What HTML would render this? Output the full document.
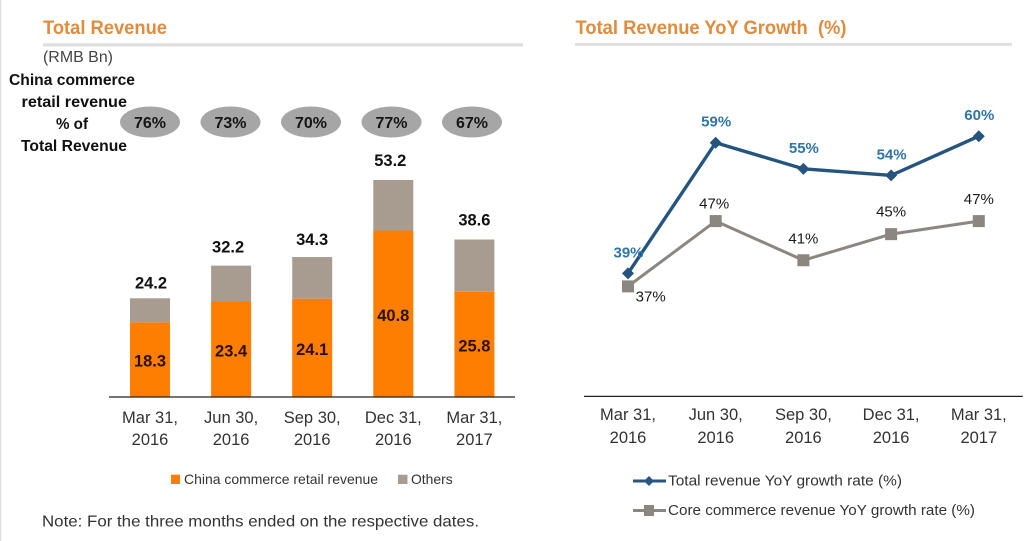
<!DOCTYPE html>
<html lang="en">
<head>
<meta charset="utf-8">
<title>Total Revenue and YoY Growth</title>
<style>
html,body{margin:0;padding:0;background:#fff;width:1032px;height:541px;overflow:hidden}
svg{display:block;font-family:"Liberation Sans",Arial,sans-serif}
</style>
</head>
<body>
<svg id="chart" width="1032" height="541" viewBox="0 0 1032 541" xmlns="http://www.w3.org/2000/svg">
  <rect x="0" y="0" width="1.2" height="541" fill="#dcdcdc"/>

  <text x="43" y="34" font-size="19" font-weight="bold" fill="#e08c3e" textLength="124" lengthAdjust="spacingAndGlyphs">Total Revenue</text>
  <rect x="43" y="43.3" width="480" height="3.2" fill="#dedede"/>
  <text x="43" y="62" font-size="16" fill="#444" textLength="70" lengthAdjust="spacingAndGlyphs">(RMB Bn)</text>

  <g font-size="16" font-weight="bold" fill="#111">
    <text x="9" y="85" textLength="126" lengthAdjust="spacingAndGlyphs">China commerce</text>
    <text x="21.5" y="107" textLength="105.5" lengthAdjust="spacingAndGlyphs">retail revenue</text>
    <text x="56" y="129" textLength="32" lengthAdjust="spacingAndGlyphs">% of</text>
    <text x="21" y="151" textLength="106" lengthAdjust="spacingAndGlyphs">Total Revenue</text>
  </g>

  <g id="pills"></g>
  <g id="bars"></g>
  <line x1="109" x2="515" y1="397" y2="397" stroke="#222" stroke-width="1.2"/>
  <g id="barTicks"></g>

  <g>
    <rect x="171" y="474.7" width="9" height="9.3" fill="#fd7e00"/>
    <text x="184" y="484" font-size="14" fill="#333" textLength="194" lengthAdjust="spacingAndGlyphs">China commerce retail revenue</text>
    <rect x="398" y="474.7" width="9.5" height="9.3" fill="#a89c90"/>
    <text x="411" y="484" font-size="14" fill="#333" textLength="41.7" lengthAdjust="spacingAndGlyphs">Others</text>
  </g>
  <text x="42" y="526.5" font-size="16" fill="#333" textLength="437" lengthAdjust="spacingAndGlyphs">Note: For the three months ended on the respective dates.</text>

  <text x="575.5" y="34" font-size="19" font-weight="bold" fill="#e08c3e" textLength="271" lengthAdjust="spacingAndGlyphs" xml:space="preserve">Total Revenue YoY Growth  (%)</text>
  <rect x="575" y="43" width="437" height="2.8" fill="#dedede"/>

  <g id="lines"></g>
  <line x1="584" x2="1022.7" y1="396.4" y2="396.4" stroke="#222" stroke-width="1.2"/>
  <g id="lineTicks"></g>

  <g>
    <line x1="633" x2="666" y1="481" y2="481" stroke="#2a5580" stroke-width="3"/>
    <polygon points="649,476 654,481 649,486 644,481" fill="#2a5580"/>
    <text x="668" y="485.7" font-size="15" fill="#333" textLength="234" lengthAdjust="spacingAndGlyphs">Total revenue YoY growth rate (%)</text>
    <line x1="633" x2="666" y1="510.5" y2="510.5" stroke="#8c8681" stroke-width="3"/>
    <rect x="644" y="505" width="10" height="11" fill="#8c8681"/>
    <text x="668" y="515" font-size="15" fill="#333" textLength="307" lengthAdjust="spacingAndGlyphs">Core commerce revenue YoY growth rate (%)</text>
  </g>
</svg>

<script>
// Chart data
const quarterMonths = ["Mar 31,", "Jun 30,", "Sep 30,", "Dec 31,", "Mar 31,"];
const quarterYears = ["2016", "2016", "2016", "2016", "2017"];
const chinaRetailRevenue = [18.3, 23.4, 24.1, 40.8, 25.8];
const othersRevenue = [5.9, 8.8, 10.2, 12.4, 12.8];
const retailSharePct = [76, 73, 70, 77, 67];
const totalGrowthPct = [39, 59, 55, 54, 60];
const coreGrowthPct = [37, 47, 41, 45, 47];

// Axis functions
const SVG_NS = "http://www.w3.org/2000/svg";
function xBar(i) { return 150 + 81.1 * i; }
function yBar(v) { return 397 - 4.08 * v; }
function xPill(i) { return 150 + 80.5 * i; }
function xLine(i) { return 628 + 87.7 * i; }
function yLine(v) { return 528 - 6.53 * v; }

function make(tag, parent, props, content) {
  const el = document.createElementNS(SVG_NS, tag);
  for (const k in props) el.setAttribute(k, props[k]);
  if (content !== undefined) el.textContent = content;
  parent.appendChild(el);
  return el;
}

const pills = document.getElementById("pills");
const bars = document.getElementById("bars");
const barTicks = document.getElementById("barTicks");
const lines = document.getElementById("lines");
const lineTicks = document.getElementById("lineTicks");

// Share pills
retailSharePct.forEach(function (v, i) {
  const e = make("ellipse", pills, { cx: xPill(i), cy: 122, rx: 30, ry: 15.5, fill: "#a6a6a6" });
  
  
  const t = make("text", pills, { x: xPill(i), y: 128, "text-anchor": "middle", "font-size": 16, "font-weight": "bold", fill: "#151515" }, v + "%");
  
  
});

// Stacked bars
const BAR_W = 40;
const totalLabelLift = [10, 13, 12, 14, 14];
const totalLabelShift = [1, -3, 0, -3, 0];
chinaRetailRevenue.forEach(function (v, i) {
  const o = othersRevenue[i];
  const total = v + o;
  const left = xBar(i) - BAR_W / 2;

  const barChina = make("rect", bars, { x: left, y: yBar(v), width: BAR_W, height: yBar(0) - yBar(v), fill: "#fd7e00" });
  
  

  const barOthers = make("rect", bars, { x: left, y: yBar(total), width: BAR_W, height: yBar(v) - yBar(total), fill: "#a89c90" });
  
  

  const inner = make("text", bars, { x: xBar(i), y: (yBar(0) + yBar(v)) / 2 + 7, "text-anchor": "middle", "font-size": 16.5, "font-weight": "bold", fill: "#2c1000" }, v.toFixed(1));
  
  

  const top = make("text", bars, { x: xBar(i) + totalLabelShift[i], y: yBar(total) - totalLabelLift[i], "text-anchor": "middle", "font-size": 16.5, "font-weight": "bold", fill: "#111" }, total.toFixed(1));
  
  
});

// Category labels for both charts
quarterMonths.forEach(function (m, i) {
  const a = make("text", barTicks, { x: xBar(i), y: 423, "text-anchor": "middle", "font-size": 16.5, fill: "#333" }, m);
  
  
  const b = make("text", barTicks, { x: xBar(i), y: 445, "text-anchor": "middle", "font-size": 16.5, fill: "#333" }, quarterYears[i]);
  
  
  const c = make("text", lineTicks, { x: xLine(i), y: 420, "text-anchor": "middle", "font-size": 16.5, fill: "#333" }, m);
  
  
  const d = make("text", lineTicks, { x: xLine(i), y: 443, "text-anchor": "middle", "font-size": 16.5, fill: "#333" }, quarterYears[i]);
  
  
});

// Core commerce series
const corePath = make("polyline", lines, {
  points: coreGrowthPct.map(function (v, i) { return xLine(i) + "," + yLine(v); }).join(" "),
  fill: "none", stroke: "#8c8681", "stroke-width": 3
});



// Total revenue series
const totalPath = make("polyline", lines, {
  points: totalGrowthPct.map(function (v, i) { return xLine(i) + "," + yLine(v); }).join(" "),
  fill: "none", stroke: "#25557f", "stroke-width": 3.4
});



totalGrowthPct.forEach(function (v, i) {
  const x = xLine(i), y = yLine(v), r = 6;
  const mark = make("polygon", lines, { points: [x, y - r, x + r, y, x, y + r, x - r, y].join(","), fill: "#25557f" });
  
  
  const label = make("text", lines, { x: x + 0.5, y: y - 16, "text-anchor": "middle", "font-size": 15, "font-weight": "bold", fill: "#2f75a8" }, v + "%");
  
  
});

const coreLabelDx = [22.7, -1.5, 0, 0, 0];
const coreLabelDy = [15, -12.5, -17, -17.5, -17];
coreGrowthPct.forEach(function (v, i) {
  const x = xLine(i), y = yLine(v), s = 12;
  const mark = make("rect", lines, { x: x - s / 2, y: y - s / 2, width: s, height: s, fill: "#8c8681" });
  
  
  const label = make("text", lines, { x: x + coreLabelDx[i], y: y + coreLabelDy[i], "text-anchor": "middle", "font-size": 15, fill: "#1a1a1a" }, v + "%");
  
  
});
</script>
</body>
</html>
